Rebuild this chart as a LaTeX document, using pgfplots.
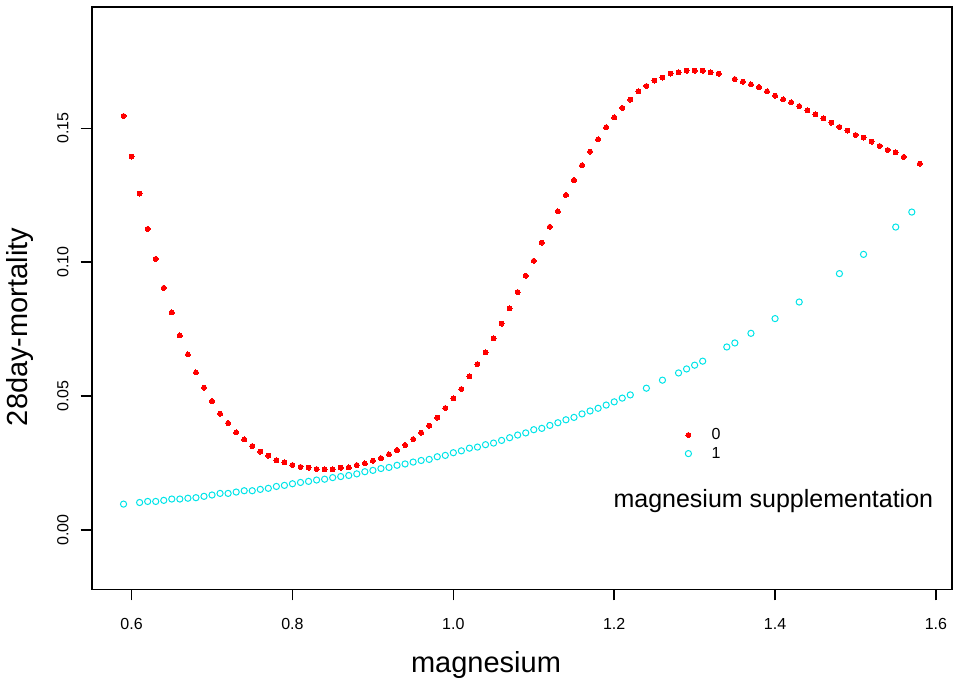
\documentclass[border=0pt]{standalone}
\usepackage{fontspec}
\setmainfont{Liberation Sans}
\usepackage{pgfplots}
\pgfplotsset{compat=1.18}
\usepackage{pgfplotstable}
\definecolor{rred}{RGB}{255,0,0}
\definecolor{rcyan}{RGB}{0,228,232}
\pgfplotstableread{
x y
0.59 0.1546
0.60 0.1394
0.61 0.1256
0.62 0.1124
0.63 0.1012
0.64 0.0904
0.65 0.0812
0.66 0.0726
0.67 0.0655
0.68 0.0588
0.69 0.0531
0.70 0.0481
0.71 0.0434
0.72 0.0399
0.73 0.0364
0.74 0.0338
0.75 0.0313
0.76 0.0292
0.77 0.0277
0.78 0.0260
0.79 0.0252
0.80 0.0242
0.81 0.0235
0.82 0.0232
0.83 0.0227
0.84 0.0226
0.85 0.0226
0.86 0.0232
0.87 0.0233
0.88 0.0242
0.89 0.0248
0.90 0.0258
0.91 0.0268
0.92 0.0282
0.93 0.0298
0.94 0.0317
0.95 0.0339
0.96 0.0363
0.97 0.0389
0.98 0.0419
0.99 0.0455
1.00 0.0491
1.01 0.0526
1.02 0.0573
1.03 0.0619
1.04 0.0663
1.05 0.0715
1.06 0.0770
1.07 0.0827
1.08 0.0888
1.09 0.0949
1.10 0.1005
1.11 0.1073
1.12 0.1132
1.13 0.1190
1.14 0.1251
1.15 0.1307
1.16 0.1362
1.17 0.1413
1.18 0.1459
1.19 0.1504
1.20 0.1541
1.21 0.1576
1.22 0.1607
1.23 0.1638
1.24 0.1658
1.25 0.1678
1.26 0.1689
1.27 0.1704
1.28 0.1709
1.29 0.1715
1.30 0.1715
1.31 0.1715
1.32 0.1709
1.33 0.1704
1.35 0.1684
1.36 0.1674
1.37 0.1664
1.38 0.1654
1.39 0.1638
1.40 0.1622
1.41 0.1608
1.42 0.1597
1.43 0.1583
1.44 0.1567
1.45 0.1552
1.46 0.1537
1.47 0.1521
1.48 0.1505
1.49 0.1491
1.50 0.1475
1.51 0.1465
1.52 0.1450
1.53 0.1434
1.54 0.1419
1.55 0.1410
1.56 0.1393
1.58 0.1368
}\nosupp
\pgfplotstableread{
x y
0.59 0.0096
0.61 0.0102
0.62 0.0106
0.63 0.0106
0.64 0.0110
0.65 0.0115
0.66 0.0115
0.67 0.0118
0.68 0.0120
0.69 0.0125
0.70 0.0130
0.71 0.0136
0.72 0.0136
0.73 0.0141
0.74 0.0146
0.75 0.0146
0.76 0.0151
0.77 0.0155
0.78 0.0162
0.79 0.0166
0.80 0.0172
0.81 0.0177
0.82 0.0181
0.83 0.0186
0.84 0.0189
0.85 0.0195
0.86 0.0199
0.87 0.0203
0.88 0.0209
0.89 0.0217
0.90 0.0222
0.91 0.0229
0.92 0.0233
0.93 0.0241
0.94 0.0246
0.95 0.0253
0.96 0.0259
0.97 0.0263
0.98 0.0273
0.99 0.0278
1.00 0.0288
1.01 0.0295
1.02 0.0305
1.03 0.0309
1.04 0.0318
1.05 0.0324
1.06 0.0334
1.07 0.0344
1.08 0.0354
1.09 0.0362
1.10 0.0374
1.11 0.0379
1.12 0.0390
1.13 0.0400
1.14 0.0411
1.15 0.0420
1.16 0.0433
1.17 0.0444
1.18 0.0454
1.19 0.0466
1.20 0.0478
1.21 0.0492
1.22 0.0504
1.24 0.0529
1.26 0.0559
1.28 0.0586
1.29 0.0601
1.30 0.0615
1.31 0.0630
1.34 0.0683
1.35 0.0698
1.37 0.0734
1.40 0.0789
1.43 0.0851
1.48 0.0957
1.51 0.1029
1.55 0.1131
1.57 0.1187
}\supp
\begin{document}
\begin{tikzpicture}
\path[use as bounding box] (-91.7pt,-94.5pt) rectangle (865.3pt,589.5pt);
\begin{axis}[
  scale only axis,
  width=860pt, height=582.2pt,
  xmin=0.5504, xmax=1.6196,
  ymin=-0.0223, ymax=0.1952,
  axis line style={line width=1.8pt},
  tick style={black, line width=1.5pt},
  tick align=outside,
  major tick length=11pt,
  tick pos=left,
  xtick={0.6,0.8,1.0,1.2,1.4,1.6},
  ytick={0,0.05,0.10,0.15},
  minor tick num=0,
  /pgf/number format/assume math mode=true,
  ticklabel style={font=\fontsize{16}{18}\selectfont},
  xticklabel style={/pgf/number format/fixed, /pgf/number format/fixed zerofill, /pgf/number format/precision=1, anchor=north, inner sep=0pt, yshift=-18pt},
  yticklabel style={/pgf/number format/fixed, /pgf/number format/fixed zerofill, /pgf/number format/precision=2, xshift=-12pt, rotate=90, anchor=south, inner sep=0pt},
  scaled ticks=false,
  xlabel={magnesium},
  ylabel={28day-mortality},
  label style={font=\fontsize{29}{34}\selectfont},
  xlabel style={at={(axis description cs:0.4585,-0.1434)}, anchor=base, inner sep=0pt},
  ylabel style={at={(axis description cs:-0.0752,0.4509)}, anchor=base, inner sep=0pt},
  clip=false,
  legend style={at={(axis description cs:0.690,0.280)}, anchor=north west, draw=none, fill=none,
    font=\fontsize{16}{18}\selectfont, inner sep=0pt, row sep=2pt,
    /tikz/every odd column/.append style={column sep=18pt}},
  legend cell align=left,
]
\addplot[only marks, color=rred, mark=*, mark size=2.5pt, mark options={draw=rred, fill=rred, line width=0pt}] table[x=x,y=y] {\nosupp};
\addlegendentry{0}
\addplot[only marks, color=rcyan, mark=o, mark size=3.1pt, mark options={line width=1pt, draw=rcyan}] table[x=x,y=y] {\supp};
\addlegendentry{1}
\node[anchor=base, inner sep=0pt, font=\fontsize{25}{30}\selectfont] at (axis description cs:0.7926,0.1417) {magnesium supplementation};
\end{axis}
\end{tikzpicture}
\end{document}
